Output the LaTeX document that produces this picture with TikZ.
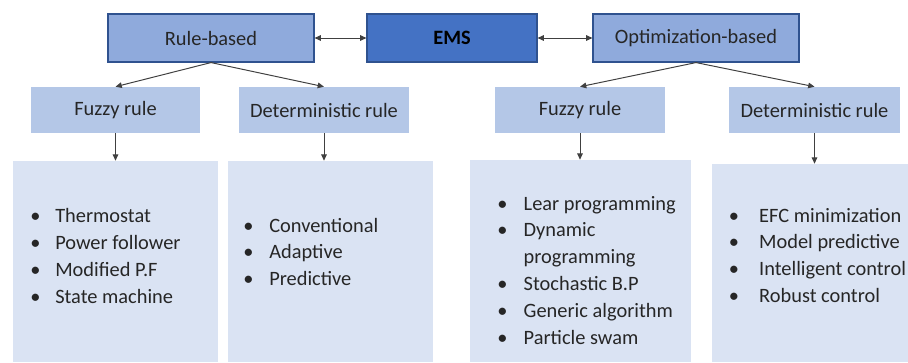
\documentclass[tikz,border=0pt]{standalone}
\usepackage{fontspec}
\setmainfont{Carlito}
\usetikzlibrary{arrows.meta}
\definecolor{emsblue}{HTML}{4472C4}
\definecolor{midblue}{HTML}{8FAADC}
\definecolor{lightblue}{HTML}{B4C7E7}
\definecolor{paleblue}{HTML}{DAE3F3}
\definecolor{edgeblue}{HTML}{2F528F}
\definecolor{inkgray}{HTML}{262626}
\newcommand{\bulletlist}[2]{\begin{tabular}[t]{@{}p{#1}@{}l@{}}#2\end{tabular}}
\begin{document}
\begin{tikzpicture}[x=0.025cm, y=-0.025cm, font=\fontsize{14.5}{19.1}\selectfont, text=inkgray, >={Triangle[length=4.5pt,width=4pt]},
	topbox/.style={draw=edgeblue, line width=.8pt, fill=midblue, minimum width=5.15cm, minimum height=1.2cm, inner sep=0pt},
	subbox/.style={fill=lightblue, minimum width=4.25cm, minimum height=1.15cm, inner sep=0pt},
	panel/.style={fill=paleblue, inner sep=0pt},
	items/.style={anchor=base west, inner sep=0pt},
	link/.style={draw=black!75, line width=.7pt}]
		\useasboundingbox (0,0) rectangle (908,362);
		% top row
		\node[topbox] (rule) at (211,38) {Rule-based};
		\node[topbox, fill=emsblue, minimum width=4.25cm, text=black] (ems) at (452,38) {\textbf{EMS}};
		\node[topbox] (optim) at (696,38) {Optimization-based};
		\draw[link,<->] (rule.east)--(ems.west);
		\draw[link,<->] (ems.east)--(optim.west);
		% second row
		\node[subbox, minimum width=4.225cm] (fuzzyA) at (115.5,110) {Fuzzy rule};
		\node[subbox] (detA) at (324,110) {Deterministic rule};
		\node[subbox] (fuzzyB) at (580,110) {Fuzzy rule};
		\node[subbox, minimum width=4.275cm] (detB) at (814.5,110) {Deterministic rule};
		\draw[link,->] (rule.south)--(fuzzyA.north);
		\draw[link,->] (rule.south)--(detA.north);
		\draw[link,->] (optim.south)--(fuzzyB.north);
		\draw[link,->] (optim.south)--(detB.north);
		% panels
		\node[panel, minimum width=5.125cm, minimum height=5.025cm] (panelA) at (115.5,261.5) {};
		\node[panel, minimum width=5.125cm, minimum height=5.025cm] (panelB) at (330.5,261.5) {};
		\node[panel, minimum width=5.525cm, minimum height=5.05cm] (panelC) at (580.5,261) {};
		\node[panel, minimum width=4.9cm, minimum height=4.95cm] (panelD) at (810,263) {};
		\draw[link,->] (fuzzyA.south)--(fuzzyA.south |- panelA.north);
		\draw[link,->] (detA.south)--(detA.south |- panelB.north);
		\draw[link,->] (fuzzyB.south)--(fuzzyB.south |- panelC.north);
		\draw[link,->] (detB.south)--(detB.south |- panelD.north);
		% lists
		\node[items] (listA) at (30,222.7) {\bulletlist{.625cm}{\textbullet & Thermostat\\ \textbullet & Power follower\\ \textbullet & Modified P.F\\ \textbullet & State machine}};
		\node[items] (listB) at (243,232) {\bulletlist{.65cm}{\textbullet & Conventional\\ \textbullet & Adaptive\\ \textbullet & Predictive}};
		\node[items] (listC) at (497,210) {\bulletlist{.66cm}{\textbullet & Lear programming\\ \textbullet & Dynamic\\ & programming\\ \textbullet & Stochastic B.P\\ \textbullet & Generic algorithm\\ \textbullet & Particle swam}};
		\node[items] (listD) at (728.5,222) {\bulletlist{.76cm}{\textbullet & EFC minimization\\ \textbullet & Model predictive\\ \textbullet & Intelligent control\\ \textbullet & Robust control}};
\end{tikzpicture}
\end{document}
